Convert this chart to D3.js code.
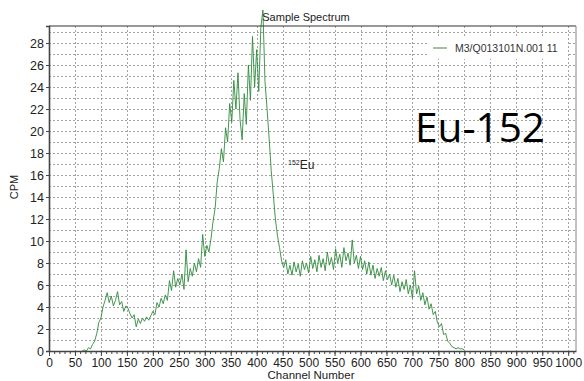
<!DOCTYPE html>
<html>
<head>
<meta charset="utf-8">
<script src="https://cdn.jsdelivr.net/npm/d3@7"></script>
<style>
  html, body { margin: 0; padding: 0; background: #fff; }
  svg { display: block; }
</style>
</head>
<body>
<svg id="chart" width="584" height="381"></svg>
<script>
// Spectrum counts, one value every 4 channels starting at channel 64
const channelStart = 64;
const channelStep = 4;
const counts = [
  0.0, 0.1, 0.0, 0.3, 0.2, 0.6, 0.9, 1.6, 2.6, 3.0,
  4.0, 4.6, 5.3, 4.4, 5.0, 4.1, 4.6, 5.4, 4.2, 4.5,
  3.6, 4.1, 3.9, 3.4, 3.0, 3.3, 2.2, 2.9, 2.5, 3.0,
  2.7, 3.1, 2.8, 3.2, 3.6, 3.3, 4.4, 4.0, 4.8, 4.3,
  5.1, 4.6, 6.4, 5.5, 7.3, 5.8, 6.6, 6.0, 7.0, 5.6,
  9.2, 6.3, 7.5, 6.8, 8.0, 7.2, 8.4, 7.6, 10.6, 8.6,
  9.6, 9.0, 10.2, 11.8, 13.0, 15.4, 16.6, 18.4, 17.2, 20.3,
  19.0, 22.5, 20.8, 24.6, 22.0, 25.3, 21.0, 19.2, 23.4, 20.6,
  26.0, 22.8, 28.6, 24.0, 27.4, 23.6, 29.4, 31.0, 24.5, 22.0,
  19.3, 16.4, 14.2, 12.0, 10.5, 9.4, 8.2, 7.6, 8.3, 7.0,
  7.8, 6.9, 8.1, 7.2, 7.9, 6.8, 8.2, 7.4, 8.0, 7.1,
  8.6, 7.5, 8.3, 7.2, 8.7, 7.6, 8.4, 7.3, 9.0, 7.8,
  8.5, 7.4, 9.3, 8.0, 8.8, 7.6, 9.4, 8.2, 8.9, 7.8,
  10.1, 8.0, 8.7, 7.5, 8.6, 7.4, 8.2, 7.0, 8.1, 6.9,
  7.8, 6.6, 7.5, 6.8, 7.6, 6.4, 7.3, 6.5, 7.0, 6.0,
  6.9, 5.8, 6.6, 5.4, 6.3, 5.6, 6.5, 5.2, 6.0, 4.8,
  7.3, 5.2, 5.9, 4.6, 5.3, 4.2, 4.9, 3.8, 4.3, 3.3,
  3.6, 2.6, 2.2, 2.5, 1.5, 1.6, 0.9, 0.7, 0.4, 0.3,
  0.2, 0.3, 0.2, 0.2, 0.1
];
const channels = counts.map((_, i) => channelStart + i * channelStep);

const xTicks = d3.range(0, 1001, 50);
const xMinorTicks = d3.range(0, 1011, 10);
const yTicks = d3.range(0, 29, 2);
const yGrid = d3.range(1, 30, 1);

const chartTitle = "Sample Spectrum";
const xTitle = "Channel Number";
const yTitle = "CPM";
const legendLabel = "M3/Q013101N.001 11";
const isotopeMass = "152";
const isotopeSymbol = "Eu";
const bigLabel = "Eu-152";

const margin = { top: 26, right: 8, bottom: 30, left: 49 };
const W = 584, H = 381;
const svg = d3.select("#chart");

const x = d3.scaleLinear().domain([0, 1015]).range([margin.left, W - margin.right]);
const y = d3.scaleLinear().domain([0, 29.55]).range([H - margin.bottom, margin.top]);

const font = "'Liberation Sans', Arial, sans-serif";
const gridColor = "#9a9a9a";

// grid
const grid = svg.append("g");
grid.selectAll("line.h").data(yGrid).join("line")
  .attr("x1", x(0)).attr("x2", x.range()[1])
  .attr("y1", d => Math.round(y(d)) + 0.5).attr("y2", d => Math.round(y(d)) + 0.5)
  .attr("stroke", gridColor).attr("stroke-width", 0.9).attr("stroke-dasharray", "2,2");
grid.selectAll("line.v").data(xTicks.filter(d => d > 0)).join("line")
  .attr("x1", d => Math.round(x(d)) + 0.5).attr("x2", d => Math.round(x(d)) + 0.5)
  .attr("y1", y.range()[1]).attr("y2", y(0))
  .attr("stroke", gridColor).attr("stroke-width", 0.9).attr("stroke-dasharray", "2,2");

// legend box
svg.append("rect")
  .attr("x", 427).attr("y", 37).attr("width", 140).attr("height", 22)
  .attr("fill", "#fff");
svg.append("line")
  .attr("x1", 433).attr("x2", 447).attr("y1", 48).attr("y2", 48)
  .attr("stroke", "#5a9a66").attr("stroke-width", 1.2);
svg.append("text")
  .attr("x", 455).attr("y", 51.5)
  .attr("font-family", font).attr("font-size", 10.5).attr("fill", "#333")
  .text(legendLabel);

// spectrum line
const line = d3.line()
  .x((d, i) => x(channels[i]))
  .y(d => y(d));
svg.append("path")
  .datum(counts)
  .attr("d", line)
  .attr("fill", "none")
  .attr("stroke", "#2f8a3c")
  .attr("stroke-width", 0.9)
  .attr("stroke-linejoin", "miter");

// frame
svg.append("line")
  .attr("x1", x(0)).attr("x2", x.range()[1])
  .attr("y1", y.range()[1]).attr("y2", y.range()[1])
  .attr("stroke", "#333").attr("stroke-width", 1.2);
svg.append("line")
  .attr("x1", x.range()[1]).attr("x2", x.range()[1])
  .attr("y1", y.range()[1]).attr("y2", y(0))
  .attr("stroke", "#888").attr("stroke-width", 1);

// y axis
const yAxis = d3.axisLeft(y).tickValues(yTicks).tickSize(3).tickPadding(2)
  .tickFormat(d3.format("d"));
const gy = svg.append("g").attr("transform", `translate(${x(0)},0)`).call(yAxis);
gy.select(".domain").attr("stroke", "#444").attr("stroke-width", 1.6);
gy.selectAll(".tick line").attr("stroke", "#444");
gy.selectAll("text").attr("font-family", font).attr("font-size", 12.5).attr("fill", "#222");

// x axis, minor then major ticks
const gxMinor = svg.append("g").attr("transform", `translate(0,${y(0)})`)
  .call(d3.axisBottom(x).tickValues(xMinorTicks).tickSize(3).tickFormat(""));
gxMinor.select(".domain").remove();
gxMinor.selectAll(".tick line").attr("stroke", "#444");
const gx = svg.append("g").attr("transform", `translate(0,${y(0)})`)
  .call(d3.axisBottom(x).tickValues(xTicks).tickSize(5).tickPadding(2).tickSizeOuter(0)
    .tickFormat(d3.format("d")));
gx.select(".domain").attr("stroke", "#444").attr("stroke-width", 1.6);
gx.selectAll(".tick line").attr("stroke", "#444");
gx.selectAll("text").attr("font-family", font).attr("font-size", 12).attr("fill", "#222");

// titles
svg.append("text")
  .attr("x", 306).attr("y", 21).attr("text-anchor", "middle")
  .attr("font-family", font).attr("font-size", 11).attr("fill", "#222")
  .text(chartTitle);
svg.append("text")
  .attr("x", 311).attr("y", 379).attr("text-anchor", "middle")
  .attr("font-family", font).attr("font-size", 11.5).attr("fill", "#222")
  .text(xTitle);
svg.append("text")
  .attr("transform", "translate(18,187) rotate(-90)").attr("text-anchor", "middle")
  .attr("font-family", font).attr("font-size", 11).attr("fill", "#222")
  .text(yTitle);

// peak annotation
const ann = svg.append("text")
  .attr("x", 288).attr("y", 169)
  .attr("font-family", font).attr("fill", "#222");
ann.append("tspan").attr("font-size", 7).attr("dy", -4).text(isotopeMass);
ann.append("tspan").attr("font-size", 12).attr("dy", 4).text(isotopeSymbol);

// large isotope label
svg.append("text")
  .attr("x", 415).attr("y", 142)
  .attr("font-family", "'Open Sans', 'Noto Sans', sans-serif").attr("font-size", 41)
  .attr("fill", "#000")
  .attr("textLength", 130).attr("lengthAdjust", "spacingAndGlyphs")
  .text(bigLabel);
</script>
</body>
</html>
